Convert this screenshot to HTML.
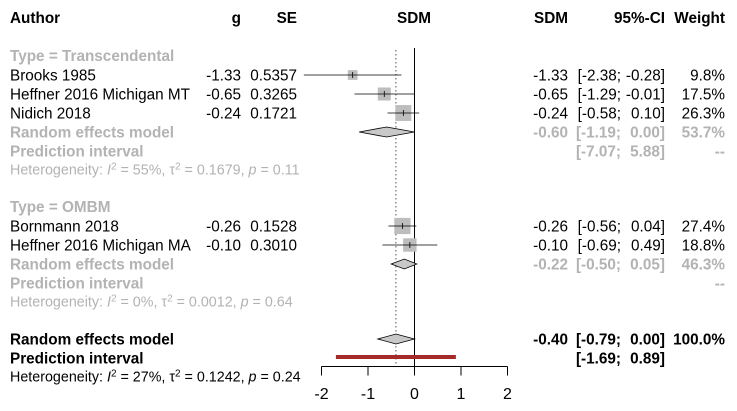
<!DOCTYPE html>
<html><head><meta charset="utf-8"><style>
html,body{margin:0;padding:0;background:#fff;}
svg{display:block;font-family:"Liberation Sans",Arial,sans-serif;}
</style></head><body>
<svg id="chart" width="737" height="411" viewBox="0 0 737 411">
<g id="texts"></g><g id="marks"></g>
</svg>
<script>
// data
const studyNames = ["Brooks 1985","Heffner 2016 Michigan MT","Nidich 2018","Bornmann 2018","Heffner 2016 Michigan MA"];
const studyG = [-1.33,-0.65,-0.24,-0.26,-0.10];
const studySE = ["0.5357","0.3265","0.1721","0.1528","0.3010"];
const studyLo = [-2.38,-1.29,-0.58,-0.56,-0.69];
const studyHi = [-0.28,-0.01,0.10,0.04,0.49];
const studyW = [9.8,17.5,26.3,27.4,18.8];
const studyRows = [75,94,113,226,245];
const poolNames = ["Transcendental","OMBM","Overall"];
const poolEst = [-0.60,-0.22,-0.40];
const poolLo = [-1.19,-0.50,-0.79];
const poolHi = [0.00,0.05,0.00];
const poolW = ["53.7%","46.3%","100.0%"];
const predLo = [-7.07,null,-1.69];
const predHi = [5.88,null,0.89];
const poolRows = [132,264,339];
const hetI2 = ["55%","0%","27%"];
const hetTau = ["0.1679","0.0012","0.1242"];
const hetP = ["0.11","0.64","0.24"];
const ticks = [-2,-1,0,1,2];

const NS="http://www.w3.org/2000/svg";
const T=document.getElementById('texts'), M=document.getElementById('marks');
const x0=414.5, sc=46.5;
const xs=v=>x0+v*sc;
const f2=v=>v.toFixed(2);
const FS=15.3;
function el(tag,attrs,parent){const e=document.createElementNS(NS,tag);for(const k in attrs)e.setAttribute(k,attrs[k]);parent.appendChild(e);return e;}
function txt(s,x,y,opt,name){opt=opt||{};
 const e=el('text',{x:x,y:y,'font-size':opt.size||FS,fill:opt.fill||'#000','text-anchor':opt.anchor||'start','font-weight':opt.bold?'bold':'normal'},T);
 e.textContent=s;
 
 
 return e;}
const G='#b3b3b3';
// header
txt("Author",10,23,{bold:1},'author-header');
txt("g",241,23,{bold:1,anchor:'end'},'g-header');
txt("SE",297,23,{bold:1,anchor:'end'},'se-header');
txt("SDM",414,23,{bold:1,anchor:'middle'},'sdm-plot-header');
txt("SDM",568,23,{bold:1,anchor:'end'},'sdm-header');
txt("95%-CI",665,23,{bold:1,anchor:'end'},'ci-header');
txt("Weight",725,23,{bold:1,anchor:'end'},'weight-header');
txt("Type = Transcendental",10,61,{bold:1,fill:G},'subgroup-title');
txt("Type = OMBM",10,212,{bold:1,fill:G},'subgroup-title');

// reference lines
let l=el('line',{x1:x0,y1:48,x2:x0,y2:366,stroke:'#000','stroke-width':1},M);

l=el('line',{x1:xs(poolEst[2]),y1:50,x2:xs(poolEst[2]),y2:366,stroke:'#555','stroke-width':1,'stroke-dasharray':'1.5,2.5'},M);


// studies
studyNames.forEach((n,i)=>{
 const y=studyRows[i], ty=y+5.5;
 txt(n,10,ty,{},'study-name');
 txt(f2(studyG[i]),241,ty,{anchor:'end'},'study-g');
 txt(studySE[i],297,ty,{anchor:'end'},'study-se');
 txt(f2(studyG[i]),568,ty,{anchor:'end'},'study-sdm');
 txt("["+f2(studyLo[i])+";",621,ty,{anchor:'end'},'study-ci-lower');
 txt(f2(studyHi[i])+"]",665,ty,{anchor:'end'},'study-ci-upper');
 txt(studyW[i].toFixed(1)+"%",725,ty,{anchor:'end'},'study-weight');
 const s=Math.sqrt(studyW[i])*3.1;
 const b=el('rect',{x:xs(studyG[i])-s/2,y:y-s/2,width:s,height:s,fill:'#bdbdbd'},M);
 
 const c=el('line',{x1:xs(studyLo[i]),y1:y,x2:xs(studyHi[i]),y2:y,stroke:'#000','stroke-width':0.8},M);
 
 const t=el('line',{x1:xs(studyG[i]),y1:y-3,x2:xs(studyG[i]),y2:y+3,stroke:'#000','stroke-width':0.8},M);
 
});

// pooled
poolEst.forEach((e,i)=>{
 const y=poolRows[i], ty=y+5.5, overall=i==2, col=overall?'#000':G;
 txt("Random effects model",10,ty,{bold:1,fill:col},'random-effects-label');
 txt("Prediction interval",10,ty+19,{bold:1,fill:col},'prediction-interval-label');
 txt(f2(e),568,ty,{bold:1,fill:col,anchor:'end'},'pooled-sdm');
 txt("["+f2(poolLo[i])+";",621,ty,{bold:1,fill:col,anchor:'end'},'pooled-ci-lower');
 txt(f2(poolHi[i])+"]",665,ty,{bold:1,fill:col,anchor:'end'},'pooled-ci-upper');
 txt(poolW[i],725,ty,{bold:1,fill:col,anchor:'end'},'pooled-weight');
 if(predLo[i]!==null){
  txt("["+f2(predLo[i])+";",621,ty+19,{bold:1,fill:col,anchor:'end'},'prediction-lower');
  txt(f2(predHi[i])+"]",665,ty+19,{bold:1,fill:col,anchor:'end'},'prediction-upper');
 }
 if(!overall) txt("--",725,ty+19,{bold:1,fill:col,anchor:'end'},'prediction-weight');
 const hy=ty+37;
 const h=el('text',{x:10,y:hy,'font-size':14.3,fill:col},T);
 h.innerHTML='Heterogeneity: <tspan font-style="italic">I</tspan><tspan dy="-5" font-size="10">2</tspan><tspan dy="5"> = '+hetI2[i]+', \u03c4</tspan><tspan dy="-5" font-size="10">2</tspan><tspan dy="5"> = '+hetTau[i]+', </tspan><tspan font-style="italic">p</tspan> = '+hetP[i];
 
 const d=el('polygon',{points:`${xs(poolLo[i])},${y} ${xs(e)},${y-5} ${xs(poolHi[i])},${y} ${xs(e)},${y+5}`,fill:'#c8c8c8',stroke:'#000','stroke-width':0.8},M);
 
 if(overall){
  const p=el('rect',{x:xs(predLo[i]),y:y+16,width:xs(predHi[i])-xs(predLo[i]),height:4,fill:'#a52a2a'},M);
  
 }
});

// axis
const ay=366.5;
l=el('line',{x1:xs(ticks[0]),y1:ay,x2:xs(ticks[ticks.length-1]),y2:ay,stroke:'#000','stroke-width':1},M);

ticks.forEach(t=>{
 const k=el('line',{x1:xs(t),y1:ay,x2:xs(t),y2:ay+9,stroke:'#000','stroke-width':1},M);
 
 txt(String(t),xs(t),399,{anchor:'middle',size:16},'x-tick-label');
});
</script>
</body></html>
